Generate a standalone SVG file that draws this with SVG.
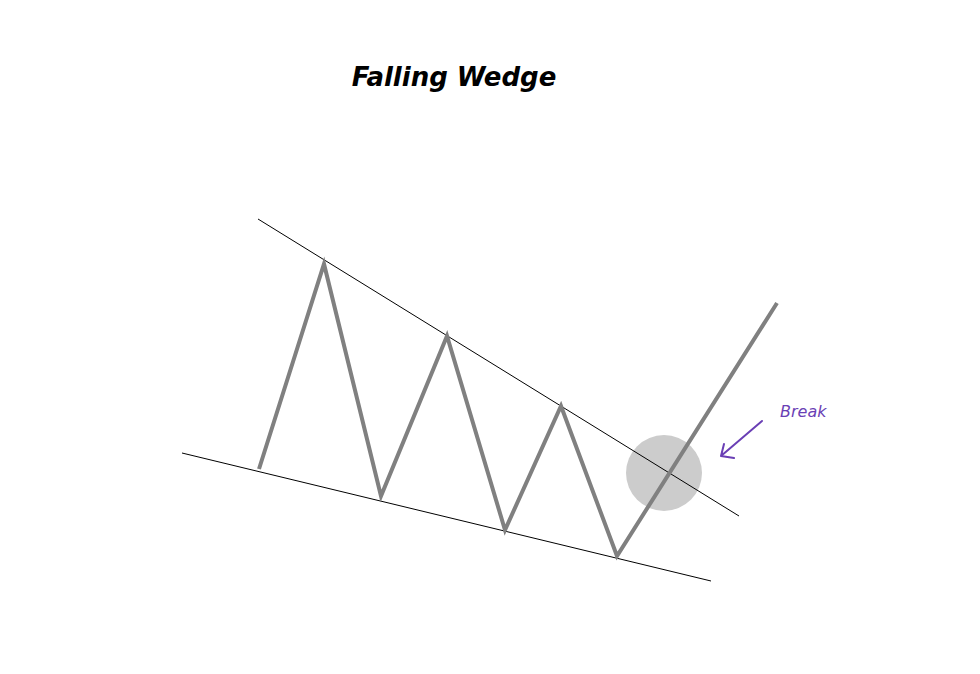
<svg xmlns="http://www.w3.org/2000/svg" width="980" height="674" viewBox="0 0 980 674">
<style>
.t{font-family:"DejaVu Sans",sans-serif;font-style:italic}
.ln{stroke:#000;stroke-width:1;fill:none}
.pr{stroke:#808080;stroke-width:4;fill:none;stroke-linejoin:miter}
</style>
<rect width="980" height="674" fill="#fff"/>
<text class="t" x="454" y="86" font-size="26" font-weight="bold" text-anchor="middle">Falling Wedge</text>
<g id="circle"><circle cx="664" cy="473" r="38" fill="#cccccc"/></g>
<g id="connectors">
<line class="ln" x1="258" y1="219" x2="739" y2="516"/>
<line class="ln" x1="182" y1="453" x2="711" y2="581"/>
<polyline class="pr" points="259,469 324,264 381,496 447,336 505,530 561,406 617,556 777,303"/>
<path d="M762,421 L721,456 M721,456 L734,458 M721,456 L724,444" stroke="#6a3fb5" stroke-width="2" fill="none" stroke-linecap="round"/>
</g>
<g id="break"><text class="t" x="780" y="417" font-size="16" fill="#6a3fb5">Break</text></g>
</svg>
